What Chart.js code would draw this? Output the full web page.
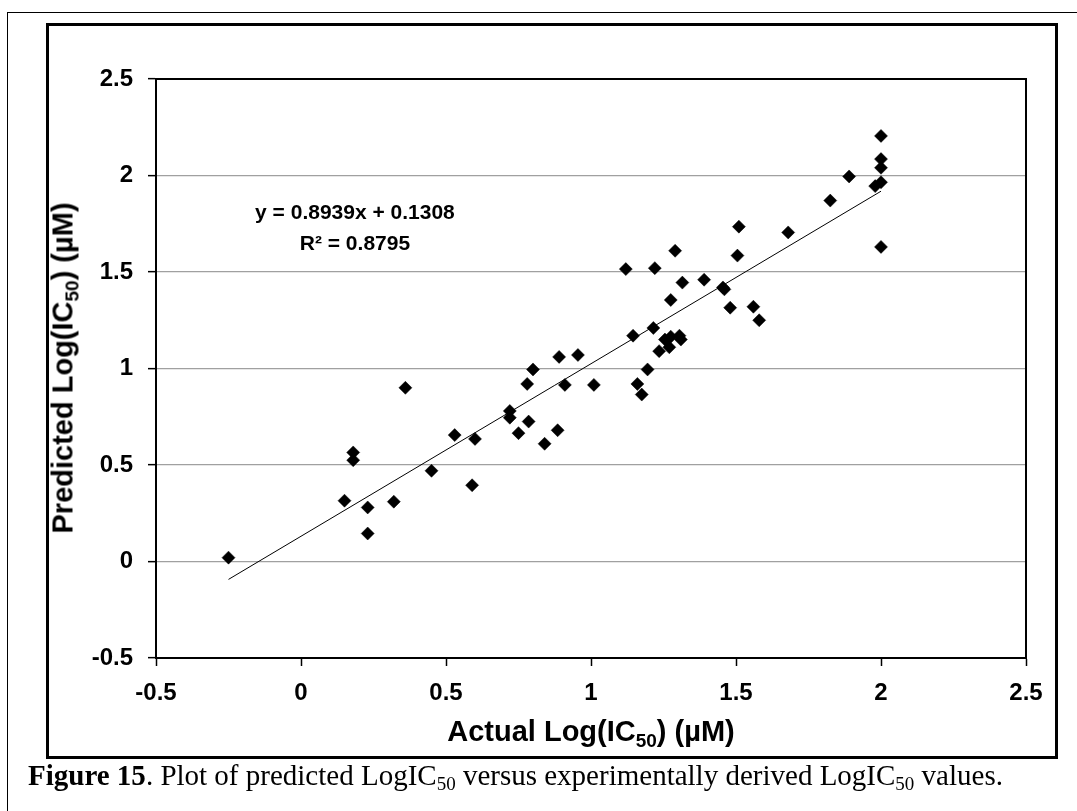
<!DOCTYPE html>
<html>
<head>
<meta charset="utf-8">
<script src="https://cdn.jsdelivr.net/npm/chart.js@4.4.1/dist/chart.umd.min.js"></script>
<style>
  html, body { margin: 0; padding: 0; background: #fff; overflow: hidden; }
  body { width: 1077px; height: 811px; position: relative; }
  #outer { position: absolute; left: 7px; top: 12px; width: 1100px; height: 900px; border: 1px solid #000; }
  #frame { position: absolute; left: 46px; top: 23px; width: 1012px; height: 736px; border: 3px solid #000; box-sizing: border-box; }
  #chart { position: absolute; left: 0; top: 0; }
  .axis-title { position: absolute; font-family: "Liberation Sans", Arial, sans-serif; font-weight: bold; font-size: 29px; line-height: 1; color: #000; white-space: nowrap; }
  .axis-title .sub { font-size: 19px; position: relative; top: 6px; }
  #xTitle { left: 591px; top: 731px; transform: translate(-50%, -50%); }
  #yTitle { left: 63px; top: 368px; transform: translate(-50%, -50%) rotate(-90deg); }
  #caption { position: absolute; left: 28px; top: 760px; font-family: "Liberation Serif", "Times New Roman", serif; font-size: 29px; line-height: 1.1; color: #000; white-space: nowrap; }
  #caption .sub { font-size: 19px; position: relative; top: 5px; }
</style>
</head>
<body>
<div id="outer"></div>
<div id="frame"></div>
<canvas id="chart" width="1077" height="811"></canvas>
<div class="axis-title" id="xTitle">Actual Log(IC<span class="sub">50</span>) (µM)</div>
<div class="axis-title" id="yTitle">Predicted Log(IC<span class="sub">50</span>) (µM)</div>
<div id="caption"><b>Figure 15</b>. Plot of predicted LogIC<span class="sub">50</span> versus experimentally derived LogIC<span class="sub">50</span> values.</div>
<script>
const actualLog = [
  -0.25, 0.18, 0.18, 0.36, 0.15, 0.23, 0.23, 0.32, 0.45, 0.53, 0.60, 0.59,
  0.72, 0.72, 0.785, 0.75, 0.84, 0.885, 0.78, 0.80, 0.89, 0.955, 0.91, 1.01,
  1.145, 1.215, 1.275, 1.16, 1.175, 1.195, 1.235, 1.255, 1.275, 1.27, 1.305, 1.31,
  1.48, 1.56, 1.58, 1.51, 1.29, 1.505, 1.12, 1.22, 1.315, 1.39, 1.455, 1.46,
  2.0, 2.0, 2.0, 2.0, 1.98, 2.0, 1.89, 1.825, 1.68
];
const predictedLog = [
  0.02, 0.565, 0.525, 0.90, 0.315, 0.28, 0.145, 0.31, 0.47, 0.655, 0.635, 0.395,
  0.78, 0.745, 0.725, 0.665, 0.61, 0.68, 0.92, 0.995, 1.06, 1.07, 0.915, 0.915,
  1.17, 1.21, 1.355, 0.92, 0.865, 0.995, 1.09, 1.15, 1.165, 1.11, 1.17, 1.15,
  1.315, 1.32, 1.25, 1.735, 1.61, 1.585, 1.515, 1.52, 1.445, 1.46, 1.42, 1.41,
  2.205, 2.085, 2.04, 1.965, 1.945, 1.63, 1.995, 1.87, 1.705
];
// linear trendline endpoints (y = 0.8939x + 0.1308)
const trendX = [-0.25, 2.0];
const trendY = [-0.0927, 1.9186];
const eqLines = ["y = 0.8939x + 0.1308", "R² = 0.8795"];
const axisTicks = [-0.5, 0, 0.5, 1, 1.5, 2, 2.5];

const FONT = '"Liberation Sans", Arial, sans-serif';

const points = actualLog.map((x, i) => ({ x: x, y: predictedLog[i] }));
const trend = trendX.map((x, i) => ({ x: x, y: trendY[i] }));

const plotBorder = {
  id: "plotBorder",
  beforeDatasetsDraw(chart) {
    const a = chart.chartArea;
    const c = chart.ctx;
    c.save();
    c.strokeStyle = "#000";
    c.lineWidth = 2;
    c.strokeRect(a.left, a.top, a.right - a.left, a.bottom - a.top);
    c.restore();
  },
  afterDraw(chart) {
    const c = chart.ctx;
    const xs = chart.scales.x;
    const ys = chart.scales.y;
    c.save();
    c.fillStyle = "#000";
    c.font = "bold 21px " + FONT;
    c.textAlign = "center";
    c.textBaseline = "middle";
    const cx = xs.getPixelForValue(0.186);
    c.fillText(eqLines[0], cx, ys.getPixelForValue(1.806));
    c.fillText(eqLines[1], cx, ys.getPixelForValue(1.646));
    c.restore();
  },
};

const tickFmt = (v) => String(Math.round(v * 10) / 10);

new Chart(document.getElementById("chart").getContext("2d"), {
  type: "scatter",
  data: {
    datasets: [
      {
        label: "Predicted",
        data: points,
        pointStyle: "rectRot",
        pointRadius: 6.5,
        pointBackgroundColor: "#000",
        pointBorderColor: "#000",
        pointBorderWidth: 0.5,
      },
      {
        type: "line",
        label: "Linear",
        data: trend,
        borderColor: "#000",
        borderWidth: 1,
        pointRadius: 0,
        fill: false,
      },
    ],
  },
  options: {
    responsive: false,
    animation: false,
    layout: { padding: { top: 79, right: 51, bottom: 93, left: 0 } },
    plugins: { legend: { display: false }, tooltip: { enabled: false } },
    scales: {
      x: {
        type: "linear",
        min: -0.5,
        max: 2.5,
        afterFit: (s) => { s.height = 60; },
        afterBuildTicks: (s) => { s.ticks = axisTicks.map((v) => ({ value: v })); },
        ticks: { callback: tickFmt, color: "#000", padding: 13, maxRotation: 0, font: { family: FONT, size: 24, weight: "bold" } },
        grid: { drawOnChartArea: false, drawTicks: true, tickLength: 8, tickColor: "#000", tickWidth: 1.5 },
        border: { color: "#000", width: 2 },
      },
      y: {
        min: -0.5,
        max: 2.5,
        afterFit: (s) => { s.width = 156; },
        afterBuildTicks: (s) => { s.ticks = axisTicks.map((v) => ({ value: v })); },
        ticks: { callback: tickFmt, color: "#000", padding: 15, font: { family: FONT, size: 24, weight: "bold" } },
        grid: {
          color: (c) => (c.tick && (c.tick.value === -0.5 || c.tick.value === 2.5) ? "rgba(0,0,0,0)" : "#a0a0a0"),
          lineWidth: 1.3,
          tickLength: 8,
          tickColor: "#000",
          tickWidth: 1.5,
        },
        border: { color: "#000", width: 2 },
      },
    },
  },
  plugins: [plotBorder],
});
</script>
</body>
</html>
